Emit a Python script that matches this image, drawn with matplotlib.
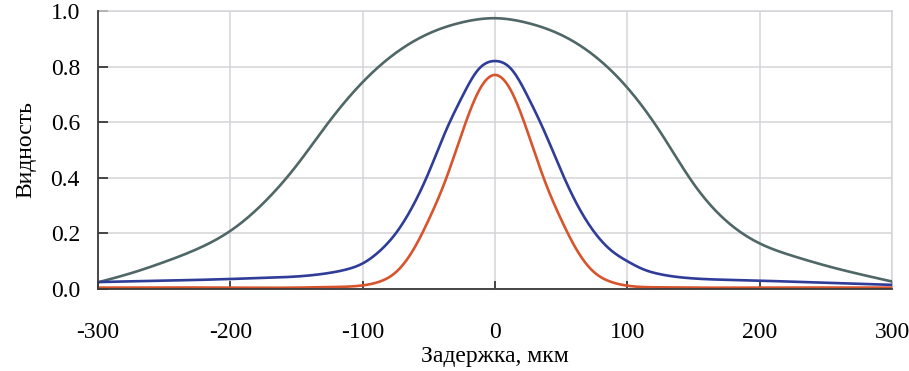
import matplotlib.pyplot as plt
import numpy as np

plt.rcParams['font.family'] = ['Liberation Serif', 'DejaVu Serif']
plt.rcParams['axes.unicode_minus'] = False

# Задержка, мкм -> видность
x_gray = [-300, -275, -250, -225, -200, -175, -150, -125, -100, -75, -50, -25, 0,
          25, 50, 75, 100, 125, 150, 175, 200, 225, 250, 275, 300]
y_gray = [0.024, 0.057, 0.097, 0.144, 0.209, 0.309, 0.444, 0.604, 0.744, 0.849, 0.919, 0.959, 0.974,
          0.9565, 0.914, 0.839, 0.724, 0.564, 0.379, 0.244, 0.164, 0.119, 0.084, 0.054, 0.027]

x_blue = [-300, -250, -200, -175, -150, -125, -112.5, -100, -87.5, -75, -62.5, -50, -37.5, -25,
          -12.5, 0, 12.5, 25, 37.5, 50, 62.5, 75, 87.5, 100, 112.5, 125, 150, 175, 200, 250, 300]
y_blue = [0.025, 0.03, 0.036, 0.04, 0.045, 0.058, 0.07, 0.092, 0.135, 0.20, 0.295, 0.42, 0.565,
          0.69, 0.79, 0.82, 0.79, 0.69, 0.565, 0.425, 0.30, 0.205, 0.14, 0.10, 0.07, 0.053, 0.038,
          0.033, 0.03, 0.022, 0.015]

x_red = [-300, -200, -150, -125, -100, -87.5, -75, -62.5, -50, -37.5, -25, -12.5, 0,
         12.5, 25, 37.5, 50, 62.5, 75, 87.5, 100, 125, 150, 200, 300]
y_red = [0.005, 0.005, 0.005, 0.007, 0.013, 0.026, 0.06, 0.135, 0.25, 0.39, 0.56, 0.71, 0.77,
         0.71, 0.56, 0.39, 0.25, 0.135, 0.06, 0.026, 0.012, 0.006, 0.005, 0.005, 0.005]


def smooth(xs, ys, n=800):
    # натуральный кубический сплайн
    xs = np.asarray(xs, float)
    ys = np.asarray(ys, float)
    k = len(xs)
    h = np.diff(xs)
    A = np.zeros((k, k))
    b = np.zeros(k)
    A[0, 0] = A[-1, -1] = 1
    for i in range(1, k - 1):
        A[i, i - 1] = h[i - 1]
        A[i, i] = 2 * (h[i - 1] + h[i])
        A[i, i + 1] = h[i]
        b[i] = 6 * ((ys[i + 1] - ys[i]) / h[i] - (ys[i] - ys[i - 1]) / h[i - 1])
    M = np.linalg.solve(A, b)
    xn = np.linspace(xs[0], xs[-1], n)
    idx = np.clip(np.searchsorted(xs, xn) - 1, 0, k - 2)
    x0, x1 = xs[idx], xs[idx + 1]
    hh = h[idx]
    yn = (M[idx] * (x1 - xn)**3 / (6 * hh) + M[idx + 1] * (xn - x0)**3 / (6 * hh)
          + (ys[idx] / hh - M[idx] * hh / 6) * (x1 - xn)
          + (ys[idx + 1] / hh - M[idx + 1] * hh / 6) * (xn - x0))
    return xn, np.clip(yn, 0.002, None)


fig = plt.figure(figsize=(9.09, 3.71), dpi=100)
ax = fig.add_axes([0.1078, 0.221, 0.8735, 0.7494])

ax.plot(*smooth(x_gray, y_gray), color='#4f6767', lw=1.9, zorder=3)
ax.plot(*smooth(x_blue, y_blue), color='#2f3c98', lw=1.9, zorder=4)
ax.plot(*smooth(x_red, y_red), color='#d8542c', lw=1.9, zorder=5)

ax.set_xlim(-300, 300)
ax.set_ylim(0, 1.0)
ax.set_xticks(np.arange(-300, 301, 100))
ax.set_yticks(np.arange(0, 1.01, 0.2))
ax.set_yticklabels([f'{v:.1f}' for v in np.arange(0, 1.01, 0.2)])
ax.grid(True, color='#d4d4d8', lw=1.1, zorder=0)

for s in ['top', 'right']:
    ax.spines[s].set_color('#d4d4d8')
    ax.spines[s].set_linewidth(1.1)
for s in ['left', 'bottom']:
    ax.spines[s].set_color('#3a3a3a')
    ax.spines[s].set_linewidth(1.3)
    ax.spines[s].set_zorder(6)

ax.tick_params(axis='x', direction='in', length=6, width=1.3, color='#3a3a3a',
               pad=24, labelsize=17)
ax.tick_params(axis='y', direction='in', length=7, width=1.3, color='#3a3a3a',
               pad=13, labelsize=17)

ax.set_xlabel('Задержка, мкм', fontsize=17, labelpad=2)
ax.set_ylabel('Видность', fontsize=17, labelpad=10)

fig.savefig('out.png', dpi=100)
